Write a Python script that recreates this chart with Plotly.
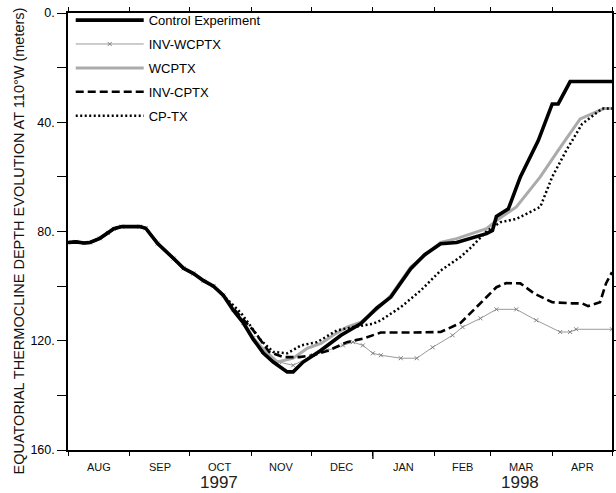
import plotly.graph_objects as go

# ---------------- data ----------------
early_dates = ["1997-08-01", "1997-08-05", "1997-08-09", "1997-08-12", "1997-08-17", "1997-08-21",
               "1997-08-24", "1997-08-28", "1997-09-06", "1997-09-09", "1997-09-15", "1997-09-23",
               "1997-09-28", "1997-10-03", "1997-10-08", "1997-10-13", "1997-10-18"]
early_depth = [84, 83.8, 84.2, 84, 82.5, 80.5, 79, 78.2, 78.2, 78.8, 84.4, 89.9,
               93.5, 95.4, 98, 100, 103.4]

control_dates = early_dates + [
    "1997-10-23", "1997-10-28", "1997-11-02", "1997-11-07", "1997-11-12", "1997-11-19",
    "1997-11-22", "1997-11-27", "1997-12-06", "1997-12-16", "1997-12-26", "1998-01-03",
    "1998-01-10", "1998-01-20", "1998-01-27", "1998-02-04", "1998-02-12", "1998-02-17",
    "1998-02-22", "1998-02-27", "1998-03-02", "1998-03-04", "1998-03-10", "1998-03-16",
    "1998-03-25", "1998-04-01", "1998-04-04", "1998-04-10", "1998-05-01"]
control_depth = early_depth + [
    108.9, 113.5, 119.5, 124.5, 127.8, 131.4,
    131.4, 127.8, 123.5, 118, 113.7, 108,
    104, 93.6, 88.5, 84.5, 84, 83,
    82, 80.8, 79.6, 74.5, 71.7, 60,
    46.7, 33.3, 33.3, 25.1, 25.1]

inv_wcptx_dates = early_dates + [
    "1997-10-23", "1997-10-28", "1997-11-02", "1997-11-07", "1997-11-15", "1997-11-22",
    "1997-12-02", "1997-12-09", "1997-12-17", "1997-12-22", "1997-12-27", "1998-01-01",
    "1998-01-05", "1998-01-15", "1998-01-23", "1998-01-31", "1998-02-10", "1998-02-15",
    "1998-02-24", "1998-03-04", "1998-03-14", "1998-03-24", "1998-04-05", "1998-04-10",
    "1998-04-13", "1998-05-01"]
inv_wcptx_depth = early_depth + [
    108.5, 113.5, 119, 124, 127.8, 129,
    125.3, 123.5, 121.7, 120.5, 121.7, 124.6,
    125.3, 126.4, 126.4, 122.4, 118, 115,
    111.8, 108.5, 108.5, 112.5, 116.8, 116.8,
    115.8, 115.8]

wcptx_dates = early_dates + [
    "1997-10-23", "1997-10-28", "1997-11-02", "1997-11-07", "1997-11-14", "1997-11-22",
    "1997-11-29", "1997-12-06", "1997-12-12", "1997-12-19", "1997-12-26", "1998-01-03",
    "1998-01-10", "1998-01-20", "1998-02-04", "1998-02-12", "1998-02-27", "1998-03-04",
    "1998-03-14", "1998-03-26", "1998-04-04", "1998-04-15", "1998-04-27", "1998-05-01"]
wcptx_depth = early_depth + [
    108.5, 113, 119, 123, 127.8, 126.4,
    122.8, 121, 118, 115, 113.2, 108.5,
    103.5, 93, 84, 82.6, 79, 76,
    71, 60, 50.3, 38.8, 35, 35]

inv_cptx_dates = early_dates + [
    "1997-10-23", "1997-11-02", "1997-11-10", "1997-11-17", "1997-11-25", "1997-12-02",
    "1997-12-10", "1997-12-19", "1997-12-27", "1998-01-05", "1998-01-21", "1998-02-04",
    "1998-02-14", "1998-02-24", "1998-03-04", "1998-03-09", "1998-03-16", "1998-03-23",
    "1998-04-01", "1998-04-11", "1998-04-16", "1998-04-19", "1998-04-25", "1998-04-28",
    "1998-05-01"]
inv_cptx_depth = early_depth + [
    108.2, 116.2, 124.1, 126, 126, 125.3,
    123.5, 120.5, 119.2, 117, 117, 116.8,
    113.5, 106.4, 100.4, 98.9, 99, 102.7,
    105.9, 106.3, 106.3, 107.3, 105.9, 99,
    94.9]

cptx_dates = early_dates + [
    "1997-10-27", "1997-11-06", "1997-11-12", "1997-11-19", "1997-11-26", "1997-12-04",
    "1997-12-14", "1997-12-22", "1998-01-01", "1998-01-05", "1998-01-15", "1998-01-25",
    "1998-02-04", "1998-02-14", "1998-02-19", "1998-02-27", "1998-03-06", "1998-03-14",
    "1998-03-26", "1998-04-01", "1998-04-08", "1998-04-16", "1998-04-26", "1998-05-01"]
cptx_depth = early_depth + [
    110, 120, 124.1, 124.6, 121.7, 120.5,
    116.2, 115, 113.8, 112.5, 107.7, 101.6,
    94.3, 89.3, 86, 80, 76.6, 75.4,
    71, 60, 50.4, 40.6, 35, 35]

month_starts = ["1997-08-01", "1997-09-01", "1997-10-01", "1997-11-01", "1997-12-01",
                "1998-01-01", "1998-02-01", "1998-03-01", "1998-04-01", "1998-05-01"]
month_mids = ["1997-08-16 12:00", "1997-09-16", "1997-10-16 12:00", "1997-11-16",
              "1997-12-16 12:00", "1998-01-16 12:00", "1998-02-15", "1998-03-16 12:00",
              "1998-04-16"]
month_labels = ["AUG", "SEP", "OCT", "NOV", "DEC", "JAN", "FEB", "MAR", "APR"]
year_pos = ["1997-10-16", "1998-03-16"]
year_labels = ["1997", "1998"]
y_ticks = [0, 20, 40, 60, 80, 100, 120, 140, 160]
y_ticktext = ["0.", "", "40.", "", "80.", "", "120.", "", "160."]
y_title = "EQUATORIAL THERMOCLINE DEPTH EVOLUTION AT 110°W (meters)"

# ---------------- figure ----------------
fig = go.Figure()

fig.add_trace(go.Scatter(
    x=inv_wcptx_dates, y=inv_wcptx_depth, name="INV-WCPTX", mode="lines+markers",
    line=dict(color="#9a9a9a", width=1),
    marker=dict(symbol="x-thin", size=4, line=dict(color="#808080", width=1)),
    legendrank=2, legendgroup="b"))
fig.add_trace(go.Scatter(
    x=wcptx_dates, y=wcptx_depth, name="WCPTX", mode="lines",
    line=dict(color="#ababab", width=3), legendrank=3, legendgroup="c"))
fig.add_trace(go.Scatter(
    x=inv_cptx_dates, y=inv_cptx_depth, name="INV-CPTX", mode="lines",
    line=dict(color="black", width=2.6, dash="8px,4px"), legendrank=4, legendgroup="d"))
fig.add_trace(go.Scatter(
    x=cptx_dates, y=cptx_depth, name="CP-TX", mode="lines",
    line=dict(color="black", width=2.5, dash="2px,2.5px"), legendrank=5, legendgroup="e"))
fig.add_trace(go.Scatter(
    x=control_dates, y=control_depth, name="Control Experiment", mode="lines",
    line=dict(color="black", width=3.6), legendrank=1, legendgroup="a"))

annotations = []
for d, t in zip(month_mids, month_labels):
    annotations.append(dict(x=d, y=0, xref="x", yref="paper", text=t, showarrow=False,
                            xanchor="center", yanchor="middle", yshift=-17,
                            font=dict(family="Liberation Sans", size=11, color="#111")))
for d, t in zip(year_pos, year_labels):
    annotations.append(dict(x=d, y=0, xref="x", yref="paper", text=t, showarrow=False,
                            xanchor="center", yanchor="middle", yshift=-32.5,
                            font=dict(family="Liberation Sans", size=17, color="#222")))
annotations.append(dict(x=0, y=0.5, xref="paper", yref="paper", text=y_title, showarrow=False,
                        textangle=-90, xanchor="center", yanchor="middle",
                        xshift=-49.5, yshift=-9.5,
                        font=dict(family="Liberation Sans", size=14.5, color="#111")))

fig.update_layout(
    width=616, height=493,
    margin=dict(l=67.5, r=4, t=12.5, b=42.5, autoexpand=False),
    paper_bgcolor="white", plot_bgcolor="white",
    font=dict(family="Liberation Sans", color="black"),
    showlegend=True,
    legend=dict(x=0.005, y=1.018, xanchor="left", yanchor="top", bgcolor="rgba(0,0,0,0)",
                itemwidth=68, tracegroupgap=4, font=dict(size=13, color="black"),
                traceorder="grouped"),
    annotations=annotations,
    shapes=[dict(type="line", xref="x", yref="paper", x0="1998-01-01", x1="1998-01-01",
                 ysizemode="pixel", yanchor=0, y0=0, y1=-9, line=dict(color="black", width=1.3))],
    xaxis=dict(type="date", range=["1997-08-01", "1998-05-01"], tickvals=month_starts,
               ticktext=[""] * len(month_starts), ticks="outside", ticklen=4, tickwidth=1.2,
               tickcolor="black", showline=True, linecolor="black", linewidth=1.5,
               mirror="ticks", showgrid=False, zeroline=False, automargin=False),
    yaxis=dict(range=[160, 0], tickvals=y_ticks, ticktext=y_ticktext, ticks="outside",
               ticklen=9, tickwidth=1.2, tickcolor="black", showline=True, linecolor="black",
               linewidth=1.5, mirror="ticks", showgrid=False, zeroline=False,
               tickfont=dict(size=12.5), automargin=False),
)

fig.write_html("out.html", config={"displayModeBar": False},
               post_script="document.body.style.margin='0';document.body.style.padding='0';")
